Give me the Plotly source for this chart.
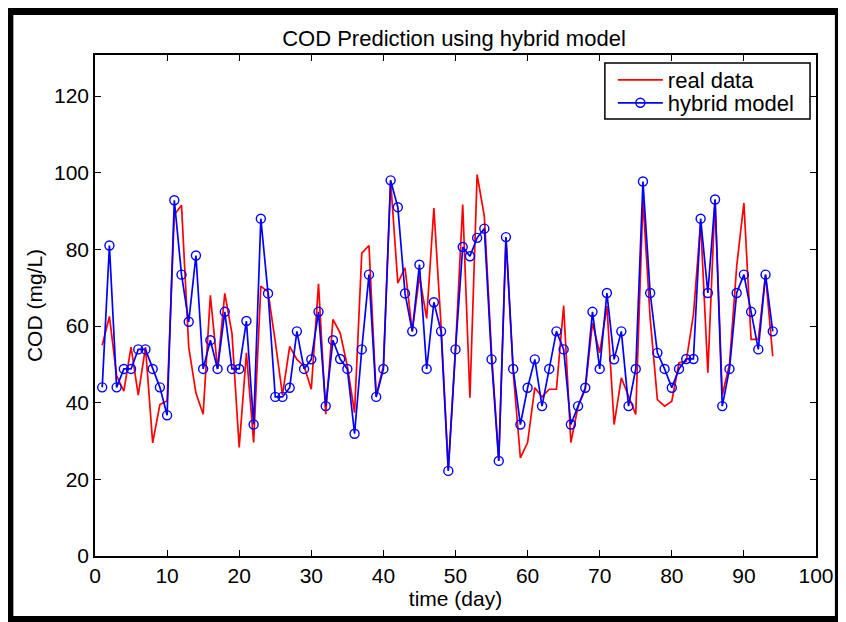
import plotly.graph_objects as go

days = list(range(1, 95))

real_data = [55, 62.5, 47, 43, 54.5, 42, 54.5, 29.5, 39.5, 40.5,
             89, 91.5, 54.5, 42.5, 37, 68, 48.8, 68.5, 58, 28.3,
             53, 29.6, 70.4, 68.9, 56, 42, 54.7, 51.3, 49.5, 43.5,
             71, 37, 61.7, 58.2, 49.5, 37.4, 79, 81, 41.8, 49.5,
             98, 71.2, 75.2, 58.6, 73, 62, 90.8, 60, 22.5, 54,
             91.7, 41.3, 99.5, 88.6, 53, 25, 83, 48, 25.6, 29.6,
             43.9, 41.5, 43.5, 43.5, 65.3, 29.6, 39, 43.5, 60.8, 53,
             65.2, 34.3, 46.5, 41.5, 36.9, 93, 62, 40.8, 39.1, 40.4,
             50.4, 50.8, 63, 87, 47.8, 93, 42, 50, 75.6, 92.1,
             56.5, 56.5, 73.4, 52.1]

hybrid_model = [44, 81, 44, 48.8, 48.8, 53.9, 53.9, 48.8, 44, 36.7,
                92.8, 73.4, 61.1, 78.4, 48.8, 56.3, 48.8, 63.7, 48.8, 48.8,
                61.3, 34.3, 88, 68.5, 41.5, 41.5, 43.9, 58.6, 48.8, 51.3,
                63.7, 39.1, 56.3, 51.4, 48.8, 31.9, 53.9, 73.4, 41.5, 48.8,
                98, 91, 68.5, 58.6, 76, 48.8, 66.2, 58.6, 22.2, 53.9,
                80.6, 78.2, 83, 85.4, 51.3, 24.8, 83.2, 48.8, 34.3, 43.9,
                51.3, 39.1, 48.8, 58.6, 53.9, 34.3, 39.1, 43.9, 63.7, 48.8,
                68.6, 51.3, 58.6, 39.1, 48.8, 97.7, 68.6, 53, 48.8, 43.9,
                48.8, 51.4, 51.4, 88, 68.6, 93, 39.1, 48.8, 68.6, 73.4,
                63.7, 53.9, 73.4, 58.6]

x_ticks = list(range(0, 101, 10))
y_ticks = list(range(0, 121, 20))

FONT = "Liberation Sans, Arial, sans-serif"

fig = go.Figure()
fig.add_trace(go.Scatter(x=days, y=real_data, mode="lines", name="real data",
                         line=dict(color="#ff0000", width=1.7), legend="legend"))
fig.add_trace(go.Scatter(x=days, y=hybrid_model, mode="lines+markers", name="hybrid model",
                         line=dict(color="#0000ff", width=1.7),
                         marker=dict(symbol="circle-open", size=9, color="#0000ff",
                                     line=dict(width=1.4, color="#0000ff")),
                         legend="legend2"))

axis_common = dict(showline=True, linecolor="black", linewidth=1.5, mirror="ticks",
                   ticks="inside", ticklen=6, tickcolor="black", tickwidth=1,
                   showgrid=False, zeroline=False,
                   tickfont=dict(family=FONT, size=21, color="black"))

W, H = 838, 614
L, R, T, B = 87, 27, 47, 66
PW, PH = W - L - R, H - T - B
OFF = 8  # page offset of the figure


def px_x(p):
    return (p - OFF - L) / PW


def px_y(p):
    return (H - B - (p - OFF)) / PH


leg_common = dict(xanchor="left", yanchor="middle", borderwidth=0,
                  bgcolor="rgba(0,0,0,0)", itemwidth=45,
                  font=dict(family=FONT, size=22, color="black"))

fig.update_layout(
    width=W, height=H, autosize=False,
    margin=dict(l=L, r=R, t=T, b=B),
    paper_bgcolor="white", plot_bgcolor="white",
    font=dict(family=FONT, size=21, color="black"),
    title=dict(text="COD Prediction using hybrid model", x=(454 - OFF) / W, xanchor="center",
               yref="container", y=1 - 30 / H, yanchor="middle",
               font=dict(family=FONT, size=22, color="black")),
    xaxis=dict(range=[0, 100], tickvals=x_ticks,
               title=dict(text="time (day)", font=dict(family=FONT, size=21), standoff=0),
               **axis_common),
    yaxis=dict(range=[0, 130.7], tickvals=y_ticks,
               title=dict(text="COD (mg/L)", font=dict(family=FONT, size=21), standoff=6),
               **axis_common),
    legend=dict(x=px_x(615), y=px_y(80), **leg_common),
    legend2=dict(x=px_x(615), y=px_y(103), **leg_common),
    showlegend=True,
)

# legend frame
fig.add_shape(type="rect", xref="paper", yref="paper",
              x0=px_x(607), x1=px_x(813), y0=px_y(119), y1=px_y(63),
              line=dict(color="black", width=1.5), fillcolor="white", layer="above")

# outer black frame
fig.add_shape(type="rect", xref="paper", yref="paper",
              x0=px_x(9), x1=px_x(842), y0=px_y(620), y1=px_y(11),
              line=dict(color="black", width=8), fillcolor="rgba(0,0,0,0)", layer="above")

fig.write_html("out.html")
